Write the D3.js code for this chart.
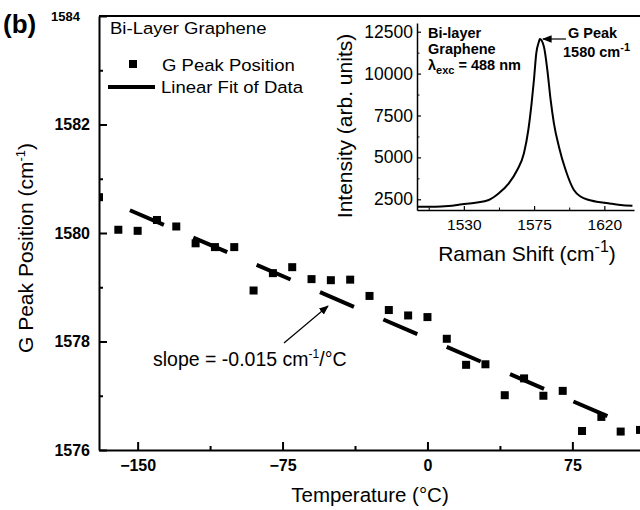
<!DOCTYPE html>
<html>
<head>
<meta charset="utf-8">
<script src="https://cdn.jsdelivr.net/npm/d3@7"></script>
<style>
  body { margin: 0; background: #fff; }
  svg { display: block; font-family: "Liberation Sans", Arial, sans-serif; }
</style>
</head>
<body>
<div id="chart"></div>
<script>
// main panel: G peak position vs temperature
const temperatures = [-170, -160, -150, -140, -130, -120, -110, -100, -90, -80, -70, -60, -50, -40, -30,
    -20, -10, 0, 10, 20, 30, 40, 50, 60, 70, 80, 90, 100, 110];
const peakPositions = [1580.66, 1580.06, 1580.04, 1580.24, 1580.12, 1579.81, 1579.74, 1579.74, 1578.94, 1579.26,
    1579.37, 1579.15, 1579.13, 1579.14, 1578.84, 1578.58, 1578.48, 1578.45, 1578.05, 1577.57,
    1577.58, 1577.01, 1577.32, 1577.00, 1577.09, 1576.35, 1576.61, 1576.34, 1576.37];
const fitTemps = [-154, 94];
const fitPositions = [1580.42, 1576.61];
const yTicks = [1576, 1578, 1580, 1582, 1584];
const yMinorTicks = [1577, 1579, 1581, 1583];
const xTicks = [-150, -75, 0, 75];
const xMinorTicks = [-112.5, -37.5, 37.5];

// inset: raman spectrum
const ramanShift = [1500.0, 1511.8, 1520, 1528.9, 1537.5, 1546.0, 1552.4, 1558.8, 1564.2, 1568.5, 1571.3, 1573.4,
    1574.9, 1576.4, 1578.1, 1578.7, 1581.3, 1583.5, 1585.6, 1587.7, 1590.9, 1595.2, 1600.5, 1605,
    1610.2, 1619.8, 1625, 1630.5, 1638.0];
const intensity = [2058, 2058, 2100, 2202, 2297, 2458, 2858, 3455, 4248, 5245, 6635, 8228,
    9619, 11212, 11904, 12065, 11606, 10215, 8425, 7035, 5639, 4248, 3055, 2650,
    2458, 2297, 2230, 2160, 2118];
const insetYTicks = [2500, 5000, 7500, 10000, 12500];
const insetYMinorTicks = [3750, 6250, 8750, 11250];
const insetXTicks = [1530, 1575, 1620];
const insetXMinorTicks = [1507.5, 1552.5, 1597.5];

const svg = d3.select("#chart").append("svg")
    .attr("width", 640)
    .attr("height", 510);
svg.append("rect").attr("width", 640).attr("height", 510).attr("fill", "#fff");

const x = d3.scaleLinear().domain([-170, 110]).range([99, 640]);
const y = d3.scaleLinear().domain([1576, 1584]).range([450, 16]);

// axes
const xAxis = svg.append("g")
    .attr("transform", "translate(0,450)")
    .call(d3.axisBottom(x).tickValues(xTicks).tickSizeInner(-8).tickSizeOuter(0).tickPadding(10));
svg.append("g")
    .attr("transform", "translate(0,450)")
    .call(d3.axisBottom(x).tickValues(xMinorTicks).tickSize(-4).tickFormat(""))
    .select(".domain").remove();

const yAxis = svg.append("g")
    .attr("transform", "translate(99,0)")
    .call(d3.axisLeft(y).tickValues(yTicks).tickSizeInner(-8).tickSizeOuter(0).tickPadding(9).tickFormat(d3.format("d")));
svg.append("g")
    .attr("transform", "translate(99,0)")
    .call(d3.axisLeft(y).tickValues(yMinorTicks).tickSize(-4).tickFormat(""))
    .select(".domain").remove();

[xAxis, yAxis].forEach(function(ax) {
    ax.selectAll("text")
        .attr("font-family", "Liberation Sans, Arial, sans-serif")
        .attr("font-weight", "bold")
        .attr("font-size", 16)
        .attr("fill", "#000");
});
yAxis.selectAll(".tick").filter(d => d === 1584).select("text")
    .attr("font-size", 13)
    .attr("x", -19);
svg.selectAll(".domain").attr("stroke-width", 2);
svg.selectAll(".tick line").attr("stroke-width", 2);

// top border
svg.append("line")
    .attr("x1", x(-170)).attr("x2", x(110))
    .attr("y1", y(1584)).attr("y2", y(1584))
    .attr("stroke", "#000").attr("stroke-width", 2);

// data
svg.append("clipPath").attr("id", "plotClip")
    .append("rect").attr("x", 99).attr("y", 16).attr("width", 541).attr("height", 434);

svg.append("g").attr("clip-path", "url(#plotClip)")
    .selectAll("rect")
    .data(temperatures)
    .enter()
    .append("rect")
        .attr("x", (t) => x(t) - 4)
        .attr("y", (t, i) => y(peakPositions[i]) - 4)
        .attr("width", 8)
        .attr("height", 8)
        .attr("fill", "#000");

const fitLine = d3.line()
    .x((t) => x(t))
    .y((t, i) => y(fitPositions[i]));
svg.append("path")
    .attr("d", fitLine(fitTemps))
    .attr("fill", "none")
    .attr("stroke", "#000")
    .attr("stroke-width", 4)
    .attr("stroke-dasharray", "37,32");

// legend
function wideText(str, tx, ty, size) {
    return svg.append("text")
        .attr("transform", "translate(" + tx + "," + ty + ") scale(1.09,1)")
        .attr("font-size", size)
        .text(str);
}
wideText("Bi-Layer Graphene", 110, 34, 17);
svg.append("rect").attr("x", 129).attr("y", 60).attr("width", 8).attr("height", 8).attr("fill", "#000");
wideText("G Peak Position", 162, 71, 17);
svg.append("line").attr("x1", 108).attr("x2", 155).attr("y1", 87).attr("y2", 87)
    .attr("stroke", "#000").attr("stroke-width", 4);
wideText("Linear Fit of Data", 161, 93, 17);

// panel label
svg.append("text").attr("x", 3).attr("y", 33)
    .attr("font-size", 26).attr("font-weight", "bold").text("(b)");

// axis titles
svg.append("text")
    .attr("x", 370).attr("y", 502)
    .attr("text-anchor", "middle")
    .attr("font-size", 20.5)
    .text("Temperature (°C)");

const yTitle = svg.append("text")
    .attr("transform", "translate(33,248) rotate(-90)")
    .attr("text-anchor", "middle")
    .attr("font-size", 21);
yTitle.append("tspan").text("G Peak Position (cm");
yTitle.append("tspan").attr("font-size", 13).attr("dy", -8).text("-1");
yTitle.append("tspan").attr("dy", 8).text(")");

// slope annotation
svg.append("defs").html(
    '<marker id="arrowHead" viewBox="0 0 10 10" refX="9" refY="5" markerWidth="8" markerHeight="8" orient="auto">' +
    '<path d="M0,1 L10,5 L0,9 Z" fill="#000"/></marker>');
svg.append("line")
    .attr("x1", 284).attr("y1", 343).attr("x2", 328).attr("y2", 306)
    .attr("stroke", "#000").attr("stroke-width", 1.2)
    .attr("marker-end", "url(#arrowHead)");
const slopeText = svg.append("text")
    .attr("x", 153).attr("y", 366)
    .attr("font-size", 19.5);
slopeText.append("tspan").text("slope = -0.015 cm");
slopeText.append("tspan").attr("font-size", 12).attr("dy", -8).text("-1");
slopeText.append("tspan").attr("dy", 8).text("/°C");

// inset
const ix = d3.scaleLinear().domain([1500, 1639]).range([417, 634]);
const iy = d3.scaleLinear().domain([1860, 13020]).range([210, 23]);

const ixAxis = svg.append("g")
    .attr("transform", "translate(0,210)")
    .call(d3.axisBottom(ix).tickValues(insetXTicks).tickSizeInner(-4).tickSizeOuter(0).tickPadding(9).tickFormat(d3.format("d")));
svg.append("g")
    .attr("transform", "translate(0,210)")
    .call(d3.axisBottom(ix).tickValues(insetXMinorTicks).tickSize(-2.5).tickFormat(""))
    .select(".domain").remove();
const iyAxis = svg.append("g")
    .attr("transform", "translate(417,0)")
    .call(d3.axisLeft(iy).tickValues(insetYTicks).tickSizeInner(-4).tickSizeOuter(0).tickPadding(4).tickFormat(d3.format("d")));
svg.append("g")
    .attr("transform", "translate(417,0)")
    .call(d3.axisLeft(iy).tickValues(insetYMinorTicks).tickSize(-2.5).tickFormat(""))
    .select(".domain").remove();
ixAxis.selectAll("text").attr("font-family", "Liberation Sans, Arial, sans-serif").attr("font-size", 15.5).attr("fill", "#000");
iyAxis.selectAll("text").attr("font-family", "Liberation Sans, Arial, sans-serif").attr("font-size", 17.5).attr("fill", "#000");
[ixAxis, iyAxis].forEach(function(ax) {
    ax.select(".domain").attr("stroke-width", 1.5);
    ax.selectAll(".tick line").attr("stroke-width", 1.2);
});

const spectrum = d3.line()
    .x((s) => ix(s))
    .y((s, i) => iy(intensity[i]))
    .curve(d3.curveMonotoneX);
svg.append("path")
    .attr("d", spectrum(ramanShift))
    .attr("fill", "none")
    .attr("stroke", "#000")
    .attr("stroke-width", 2);

svg.append("text")
    .attr("transform", "translate(352,126) rotate(-90)")
    .attr("text-anchor", "middle")
    .attr("font-size", 21)
    .text("Intensity (arb. units)");

const ramanTitle = svg.append("text")
    .attr("x", 527).attr("y", 261)
    .attr("text-anchor", "middle")
    .attr("font-size", 21);
ramanTitle.append("tspan").text("Raman Shift (cm");
ramanTitle.append("tspan").attr("font-size", 16).attr("dy", -9).text("-1");
ramanTitle.append("tspan").attr("dy", 9).text(")");

const insetNote = svg.append("g").attr("font-weight", "bold").attr("font-size", 14.5);
insetNote.append("text").attr("x", 428).attr("y", 38).text("Bi-layer");
insetNote.append("text").attr("x", 428).attr("y", 54).text("Graphene");
const lambdaText = insetNote.append("text").attr("x", 428).attr("y", 70);
lambdaText.append("tspan").text("λ");
lambdaText.append("tspan").attr("font-size", 11).attr("dy", 4).text("exc");
lambdaText.append("tspan").attr("dy", -4).text(" = 488 nm");
insetNote.append("text").attr("x", 568).attr("y", 38).text("G Peak");
const peakText = insetNote.append("text").attr("x", 563).attr("y", 57);
peakText.append("tspan").text("1580 cm");
peakText.append("tspan").attr("font-size", 11).attr("dy", -6).text("-1");

svg.append("line")
    .attr("x1", 566).attr("y1", 39).attr("x2", 543).attr("y2", 39)
    .attr("stroke", "#000").attr("stroke-width", 1.2)
    .attr("marker-end", "url(#arrowHead)");
</script>
</body>
</html>
